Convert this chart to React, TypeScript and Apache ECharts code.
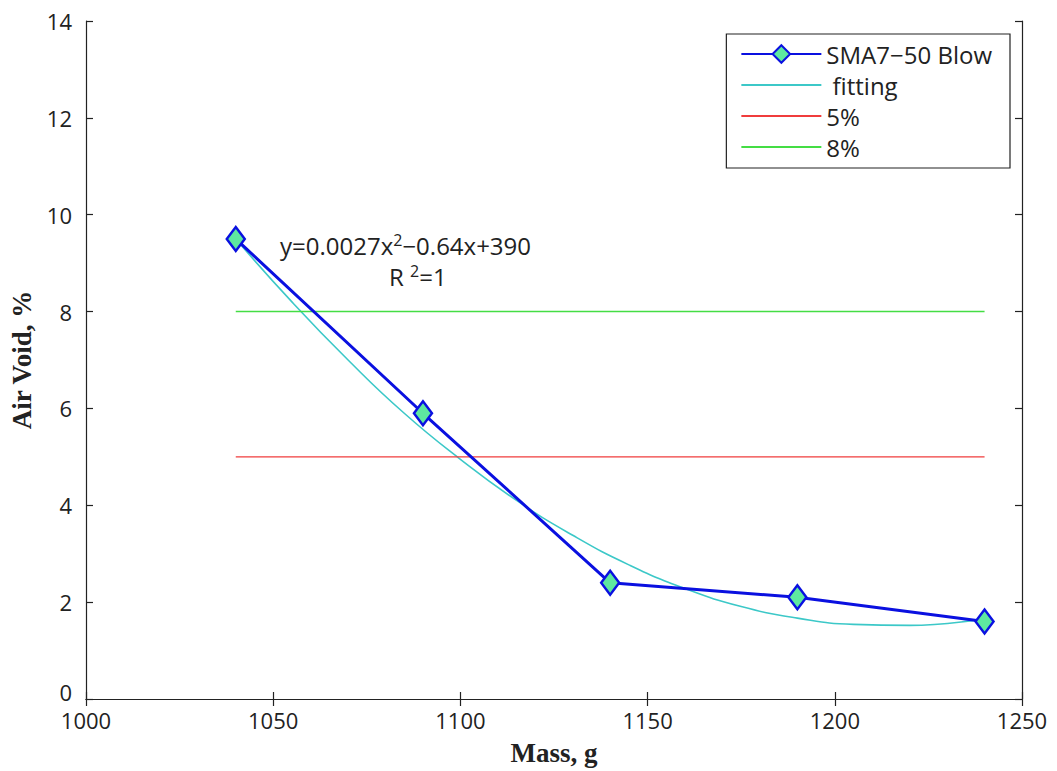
import React, { useEffect, useRef } from "react";
import * as echarts from "echarts";

const massValues = [1040, 1090, 1140, 1190, 1240];
const airVoidValues = [9.5, 5.9, 2.4, 2.1, 1.6];

const fitX = [1040, 1055, 1070, 1085, 1100, 1115, 1130, 1145, 1160, 1175, 1190, 1205, 1220, 1240];
const fitY = [9.5, 8.2, 7.0, 5.9, 4.95, 4.1, 3.38, 2.77, 2.28, 1.91, 1.67, 1.54, 1.52, 1.66];

const limitX = [1040, 1240];
const limit5 = [5, 5];
const limit8 = [8, 8];

const seriesNames = ["SMA7\u221250 Blow", " fitting", "5%", "8%"];
const xTickLabels = ["1000", "1050", "1100", "1150", "1200", "1250"];
const yTickLabels = ["0", "2", "4", "6", "8", "10", "12", "14"];

const tickFont = "'Open Sans', 'Noto Sans', sans-serif";
const titleFont = "'Liberation Serif', 'Times New Roman', serif";
const lineIcon = "path://M0,0 L80,0 L80,2 L0,2 Z";

export default function App() {
  const ref = useRef<HTMLDivElement>(null);
  useEffect(() => {
    if (!ref.current) return;
    const chart = echarts.init(ref.current, null, { renderer: "svg" });
    const axisLine = { show: true, lineStyle: { color: "#222", width: 1.2 } };
    const axisTick = { show: true, inside: true, length: 7, lineStyle: { color: "#222", width: 1.2 } };
    chart.setOption({
      animation: false,
      backgroundColor: "#fff",
      grid: { left: 86, right: 35, top: 21, bottom: 72 },
      legend: {
        orient: "vertical",
        right: 47,
        top: 34,
        padding: [8, 18, 9, 14],
        backgroundColor: "#fff",
        borderColor: "#222",
        borderWidth: 1.2,
        itemWidth: 80,
        itemHeight: 22,
        itemGap: 7,
        textStyle: { fontFamily: tickFont, fontSize: 24, color: "#222" },
        data: [
          { name: seriesNames[0] },
          { name: seriesNames[1], icon: lineIcon },
          { name: seriesNames[2], icon: lineIcon },
          { name: seriesNames[3], icon: lineIcon },
        ],
      },
      xAxis: [
        {
          type: "value",
          min: 1000,
          max: 1250,
          interval: 50,
          name: "Mass, g",
          nameLocation: "middle",
          nameGap: 40,
          nameTextStyle: { fontFamily: titleFont, fontWeight: "bold", fontSize: 27, color: "#222" },
          axisLine,
          axisTick,
          splitLine: { show: false },
          axisLabel: {
            fontFamily: tickFont,
            fontSize: 22,
            color: "#222",
            margin: 10,
            formatter: (v: number) => xTickLabels[Math.round((v - 1000) / 50)] ?? String(v),
          },
        },
        {
          type: "value",
          position: "top",
          min: 1000,
          max: 1250,
          interval: 50,
          axisLine,
          axisTick,
          splitLine: { show: false },
          axisLabel: { show: false },
        },
      ],
      yAxis: [
        {
          type: "value",
          min: 0,
          max: 14,
          interval: 2,
          name: "Air Void, %",
          nameLocation: "middle",
          nameGap: 40,
          nameTextStyle: { fontFamily: titleFont, fontWeight: "bold", fontSize: 27, color: "#222" },
          axisLine,
          axisTick,
          splitLine: { show: false },
          axisLabel: {
            fontFamily: tickFont,
            fontSize: 22,
            color: "#222",
            margin: 14,
            formatter: (v: number) => {
              const t = yTickLabels[Math.round(v / 2)] ?? String(v);
              return v === 0 ? `{z|${t}}` : t;
            },
            rich: { z: { fontFamily: tickFont, fontSize: 22, color: "#222", padding: [0, 0, 14, 0] } },
          },
        },
        {
          type: "value",
          position: "right",
          min: 0,
          max: 14,
          interval: 2,
          axisLine,
          axisTick,
          splitLine: { show: false },
          axisLabel: { show: false },
        },
      ],
      series: [
        {
          name: seriesNames[1],
          type: "line",
          smooth: true,
          showSymbol: false,
          symbol: "none",
          data: fitX.map((x, i) => [x, fitY[i]]),
          lineStyle: { color: "#3cc8c8", width: 1.6 },
          itemStyle: { color: "#3cc8c8" },
          z: 2,
        },
        {
          name: seriesNames[2],
          type: "line",
          symbol: "none",
          data: limitX.map((x, i) => [x, limit5[i]]),
          lineStyle: { color: "#f03c3c", width: 1.3 },
          itemStyle: { color: "#f03c3c" },
          z: 2,
        },
        {
          name: seriesNames[3],
          type: "line",
          symbol: "none",
          data: limitX.map((x, i) => [x, limit8[i]]),
          lineStyle: { color: "#44dd44", width: 1.5 },
          itemStyle: { color: "#44dd44" },
          z: 2,
        },
        {
          name: seriesNames[0],
          type: "line",
          data: massValues.map((x, i) => [x, airVoidValues[i]]),
          symbol: "diamond",
          symbolSize: [18, 24],
          lineStyle: { color: "#0a10e0", width: 3 },
          itemStyle: { color: "#5ee8a0", borderColor: "#0a10e0", borderWidth: 2.5 },
          z: 5,
        },
      ],
      graphic: [
        {
          type: "text",
          left: 280,
          top: 232,
          style: {
            text: "y=0.0027x{sup|2}\u22120.64x+390",
            font: `24px ${tickFont}`,
            lineHeight: 24,
            fill: "#222",
            rich: { sup: { fontSize: 16, lineHeight: 24, padding: [0, 0, 10, 0], fontFamily: tickFont } },
          },
        },
        {
          type: "text",
          left: 389,
          top: 263,
          style: {
            text: "R {sup|2}=1",
            font: `24px ${tickFont}`,
            lineHeight: 24,
            fill: "#222",
            rich: { sup: { fontSize: 16, lineHeight: 24, padding: [0, 0, 10, 0], fontFamily: tickFont } },
          },
        },
      ],
    });
    return () => chart.dispose();
  }, []);
  return <div ref={ref} style={{ width: 1057, height: 771, position: "absolute", left: 0, top: 0 }} />;
}
